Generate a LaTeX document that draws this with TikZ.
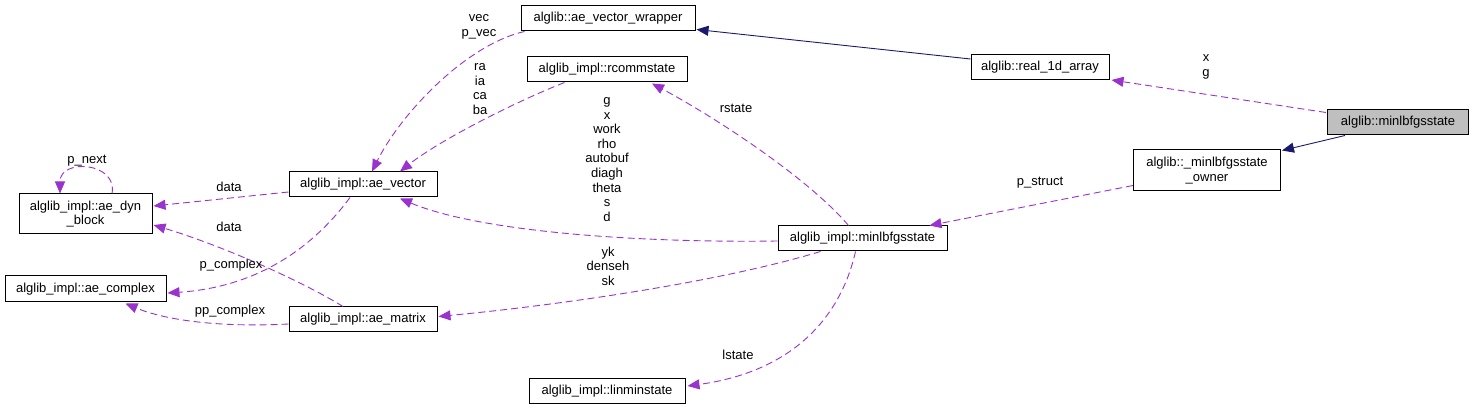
\documentclass[tikz,border=0pt]{standalone}
\usepackage{fontspec}
\setmainfont{Liberation Sans}
\usetikzlibrary{arrows.meta,calc}
\definecolor{edgepurple}{HTML}{9A32CD}
\definecolor{edgenavy}{HTML}{191970}
\definecolor{nodegray}{HTML}{BFBFBF}
\begin{document}
\begin{tikzpicture}[x=1pt,y=-1pt,
  box/.style={draw=black,line width=1pt,fill=white,inner sep=0pt,align=center,font=\fontsize{13}{14.5}\selectfont},
  use/.style={draw=edgepurple,line width=0.9pt,dash pattern=on 7pt off 4pt,-{Triangle[length=12pt,width=10pt]},fill=none},
  inh/.style={draw=edgenavy,line width=0.9pt,-{Triangle[length=12pt,width=10pt,fill=edgenavy]}},
  lbl/.style={inner sep=0pt,align=center,font=\fontsize{13}{14.6}\selectfont}]
\useasboundingbox (0,0) rectangle (1472,411);
% nodes
\node[box,minimum width=174pt,minimum height=25pt] (wrap) at (608,18.5) {alglib::ae\_vector\_wrapper};
\node[box,minimum width=160pt,minimum height=25pt] (rcomm) at (607,69.5) {alglib\_impl::rcommstate};
\node[box,minimum width=148pt,minimum height=25pt] (vec) at (363,184.5) {alglib\_impl::ae\_vector};
\node[box,minimum width=133pt,minimum height=40pt] (dyn) at (85.5,214) {alglib\_impl::ae\_dyn\\\_block};
\node[box,minimum width=161pt,minimum height=26pt] (cplx) at (85.5,289) {alglib\_impl::ae\_complex};
\node[box,minimum width=148pt,minimum height=25pt] (mat) at (363,319.5) {alglib\_impl::ae\_matrix};
\node[box,minimum width=138pt,minimum height=25pt] (real) at (1040,67) {alglib::real\_1d\_array};
\node[box,fill=nodegray,minimum width=141pt,minimum height=25pt] (lbfgs) at (1398,122.5) {alglib::minlbfgsstate};
\node[box,minimum width=147pt,minimum height=41pt] (owner) at (1207,170.5) {alglib::\_minlbfgsstate\\\_owner};
\node[box,minimum width=169pt,minimum height=25pt] (impl) at (862.5,238.5) {alglib\_impl::minlbfgsstate};
\node[box,minimum width=156pt,minimum height=25pt] (lin) at (607,391) {alglib\_impl::linminstate};
% inheritance
\draw[inh] ($(lbfgs.south)+(-53,0)$) -- ($(owner.north east)+(1,1)$);
\draw[inh] ($(real.west)+(0,-8)$) -- ($(wrap.south east)+(1,-2)$);
% usage
\draw[use] ($(lbfgs.west)+(-1,-10)$) -- ($(real.south east)+(2,0)$);
\draw[use] ($(owner.south west)+(0,-6)$) -- ($(impl.north)+(67,0)$);
\draw[use] ($(impl.north)+(-14,0)$) .. controls (810,180) and (720,120) .. ($(rcomm.south)+(45,1)$);
\draw[use] ($(impl.west)+(0,2.5)$) .. controls (640,243) and (480,232) .. ($(vec.south)+(37,1)$);
\draw[use] ($(impl.south)+(-42,0)$) .. controls (720,282) and (560,305) .. ($(mat.east)+(1,-3)$);
\draw[use] ($(impl.south)+(-7,0)$) .. controls (840,320) and (790,372) .. ($(lin.east)+(2,-5)$);
\draw[use] ($(wrap.south west)+(4,0)$) .. controls (465,45) and (400,115) .. ($(vec.north)+(9,0)$);
\draw[use] ($(rcomm.south west)+(38,0)$) .. controls (515,102) and (440,140) .. ($(vec.north)+(37,0)$);
\draw[use] ($(vec.west)+(0,7.5)$) -- ($(dyn.east)+(1,-8)$);
\draw[use] ($(vec.south)+(-13,0)$) .. controls (315,245) and (260,287) .. ($(cplx.east)+(1,4)$);
\draw[use] ($(mat.north)+(-20,0)$) .. controls (300,280) and (220,245) .. ($(dyn.east)+(1,11)$);
\draw[use] ($(mat.west)+(0,4.5)$) .. controls (210,328) and (160,318) .. ($(cplx.south)+(40,1)$);
\draw[use] ($(dyn.north)+(26.5,0)$) .. controls (118,162) and (60,158) .. ($(dyn.north)+(-25.5,0)$);
% labels
\node[lbl] (lxg) at (1206,67) {x\\g};
\node[lbl] (lps) at (1040,183) {p\_struct};
\node[lbl] (lrs) at (736,108) {rstate};
\node[lbl] (lmany) at (607,159.5) {g\\x\\work\\rho\\autobuf\\diagh\\theta\\s\\d};
\node[lbl] (lyk) at (608,266) {yk\\denseh\\sk};
\node[lbl] (lls) at (738,355) {lstate};
\node[lbl] (lvec) at (479,27) {vec\\p\_vec};
\node[lbl] (lra) at (480,89) {ra\\ia\\ca\\ba};
\node[lbl] (ld1) at (229,187) {data};
\node[lbl] (ld2) at (229,227) {data};
\node[lbl] (lpc) at (231,265) {p\_complex};
\node[lbl] (lppc) at (230,311) {pp\_complex};
\node[lbl] (lpn) at (87,161) {p\_next};
\end{tikzpicture}
\end{document}
